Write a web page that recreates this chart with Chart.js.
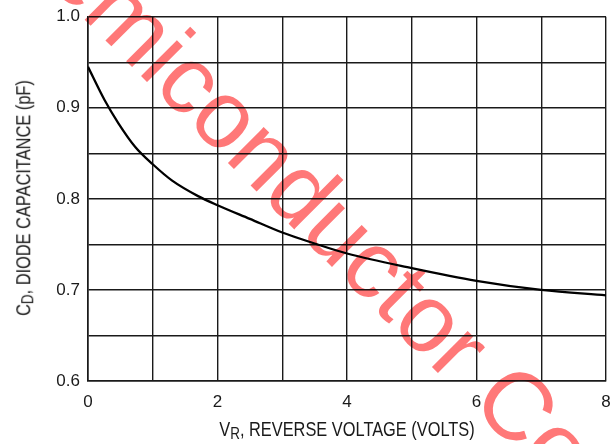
<!DOCTYPE html>
<html>
<head>
<meta charset="utf-8">
<script src="https://cdn.jsdelivr.net/npm/chart.js@4"></script>
<style>
  html, body { margin: 0; padding: 0; background: #fff; }
  #wrap { position: relative; width: 610px; height: 444px; overflow: hidden; }
  #c { position: absolute; left: 0; top: 0; }
  .ttl { position: absolute; white-space: nowrap; font-family: "Liberation Sans", Arial, sans-serif;
         font-size: 19.5px; line-height: 19.5px; color: #1a1a1a; }
  .ttl sub { font-size: 82%; vertical-align: -3px; line-height: 0; }
  #xt { left: 346.5px; top: 429.5px; transform: translate(-50%, -50%) scaleX(0.84); }
  #yt { left: 24px; top: 197.5px; transform: translate(-50%, -50%) rotate(-90deg) scaleX(0.84); }
</style>
</head>
<body>
<div id="wrap">
  <canvas id="c" width="610" height="444" style="width:610px;height:444px"></canvas>
  <div id="xt" class="ttl">V<sub>R</sub>, REVERSE VOLTAGE (VOLTS)</div>
  <div id="yt" class="ttl">C<sub>D</sub>, DIODE CAPACITANCE (pF)</div>
</div>
<script>
// Data
const voltage     = [0, 0.26, 0.47, 0.73, 1.0, 1.3, 1.7, 2.0, 2.5, 3.0, 3.5, 4.0, 5.0, 6.0, 7.0, 8.0];
const capacitance = [0.945, 0.908, 0.883, 0.857, 0.838, 0.820, 0.803, 0.793, 0.778, 0.763, 0.751, 0.740, 0.724, 0.710, 0.700, 0.694];
const xTickLabels = ['0', '2', '4', '6', '8'];
const yTickLabels = ['0.6', '0.7', '0.8', '0.9', '1.0'];
const watermarkText = 'Semiconductor Co';

const points = voltage.map((v, i) => ({ x: v, y: capacitance[i] }));
const gridColor = '#1a1a1a';

const watermark = {
  id: 'watermark',
  afterDraw(chart) {
    const ctx = chart.ctx;
    ctx.save();
    ctx.globalCompositeOperation = 'multiply';
    ctx.translate(-3, -68);
    ctx.rotate(45 * Math.PI / 180);
    ctx.font = '96px "Liberation Sans", Arial, sans-serif';
    ctx.fillStyle = '#ff7878';
    ctx.textBaseline = 'alphabetic';
    ctx.textAlign = 'left';
    ctx.fillText(watermarkText, 0, 0);
    ctx.restore();
  }
};

new Chart(document.getElementById('c'), {
  type: 'scatter',
  data: {
    datasets: [{
      data: points,
      showLine: true,
      borderColor: '#000',
      borderWidth: 2.3,
      pointRadius: 0,
      tension: 0.4,
      cubicInterpolationMode: 'monotone',
      fill: false
    }]
  },
  options: {
    responsive: false,
    animation: false,
    devicePixelRatio: 1,
    layout: { padding: { top: 16.7, right: 4, left: 0, bottom: 0 } },
    plugins: { legend: { display: false }, tooltip: { enabled: false } },
    scales: {
      x: {
        type: 'linear', min: 0, max: 8,
        ticks: {
          stepSize: 1,
          padding: 11,
          color: '#1a1a1a',
          font: { family: '"Liberation Sans", Arial, sans-serif', size: 17 },
          maxRotation: 0, autoSkip: false,
          callback: (v) => xTickLabels.includes(String(v)) ? String(v) : ''
        },
        grid: { color: gridColor, lineWidth: 1.4, drawTicks: false },
        border: { color: gridColor, width: 1.6 },
        afterFit: (s) => { s.height = 63; s.paddingLeft = 0; s.paddingRight = 0; }
      },
      y: {
        type: 'linear', min: 0.6, max: 1.0,
        ticks: {
          stepSize: 0.05,
          padding: 8,
          color: '#1a1a1a',
          font: { family: '"Liberation Sans", Arial, sans-serif', size: 17 },
          autoSkip: false,
          callback: (v) => {
            const lbl = (Math.round(v * 10) / 10).toFixed(1);
            return (Math.round(v * 100) % 10 === 0 && yTickLabels.includes(lbl)) ? lbl : '';
          }
        },
        grid: { color: gridColor, lineWidth: 1.4, drawTicks: false },
        border: { color: gridColor, width: 1.6 },
        afterFit: (s) => { s.width = 88; s.paddingTop = 0; s.paddingBottom = 0; }
      }
    }
  },
  plugins: [watermark]
});
</script>
</body>
</html>
